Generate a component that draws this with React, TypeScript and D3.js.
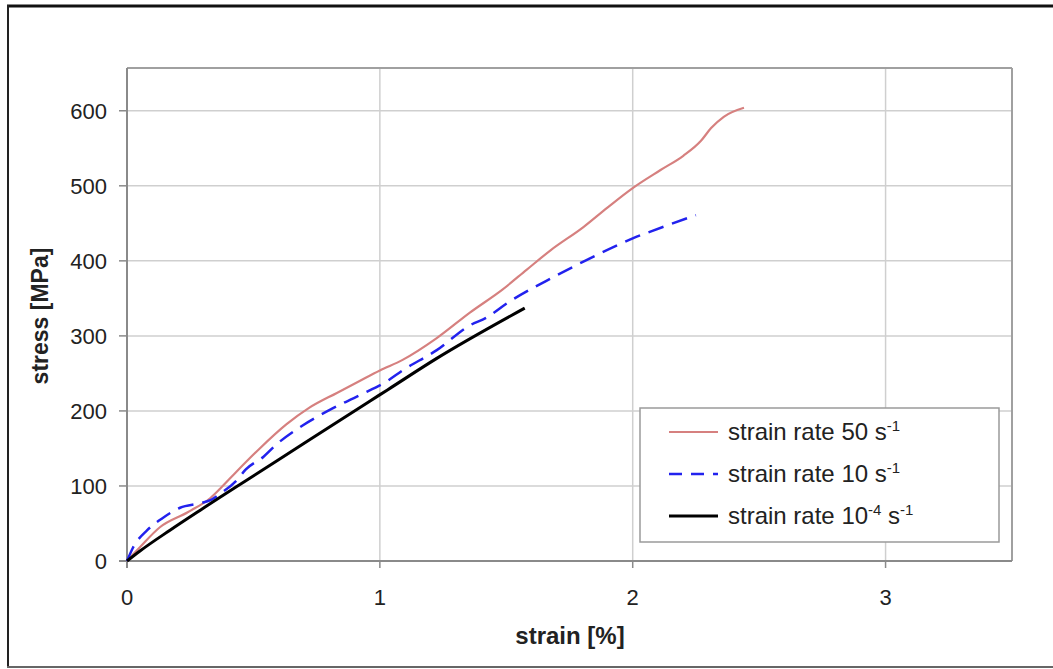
import * as d3 from "d3";

// strain [%] / stress [MPa]
const strain50 = [0, 0.05, 0.13, 0.24, 0.33, 0.37, 0.43, 0.525, 0.63, 0.72, 0.83, 0.92, 1.0, 1.09, 1.225, 1.356, 1.486, 1.58, 1.675, 1.805, 1.9, 2.0, 2.11, 2.2, 2.27, 2.31, 2.36, 2.44];
const stress50 = [0, 18, 45, 65, 84, 97, 118, 150, 182, 204, 224, 240, 254, 268, 297, 331, 362, 388, 414, 445, 471, 497, 521, 540, 560, 577, 592, 604];

const strain10 = [0, 0.024, 0.08, 0.14, 0.21, 0.29, 0.33, 0.37, 0.435, 0.47, 0.54, 0.59, 0.696, 0.8, 0.92, 1.03, 1.09, 1.225, 1.356, 1.42, 1.51, 1.69, 1.805, 1.94, 2.0, 2.07, 2.25];
const stress10 = [0, 18, 41, 57, 71, 77, 81, 90, 108, 122, 139, 155, 181, 201, 221, 240, 254, 281, 314, 324, 345, 379, 399, 421, 430, 439, 461];

const strainQs = [0, 0.05, 0.17, 0.3, 0.368, 0.47, 0.696, 0.96, 1.03, 1.225, 1.573];
const stressQs = [0, 13, 41, 70, 85, 107, 156, 213, 228, 270, 337];

const xTicks = [0, 1, 2, 3];
const yTicks = [0, 100, 200, 300, 400, 500, 600];

const series = [
  { base: "strain rate 50 s", exp: null, xs: strain50, ys: stress50, color: "#d6807f", width: 2.2, dash: null },
  { base: "strain rate 10 s", exp: null, xs: strain10, ys: stress10, color: "#2222ee", width: 2.5, dash: "16,9" },
  { base: "strain rate 10", exp: "-4", xs: strainQs, ys: stressQs, color: "#000", width: 3, dash: null },
];

const W = 1053, H = 669;
const left = 127, right = 1012, top = 68, bottom = 561;
const font = "'Liberation Sans', Arial, sans-serif";

export default function App() {
  const x = d3.scaleLinear([0, 3.5], [left, right]);
  const y = d3.scaleLinear([0, 657], [bottom, top]);

  return (
    <svg width={W} height={H} style={{ position: "absolute", left: 0, top: 0, background: "#fff" }} fontFamily={font}>
      {/* outer frame */}
      <line x1={7} x2={W} y1={6} y2={6} stroke="#111" strokeWidth={3} />
      <line x1={8} x2={8} y1={5} y2={668} stroke="#222" strokeWidth={2} />
      <line x1={7} x2={W} y1={667} y2={667} stroke="#666" strokeWidth={2} />

      {/* grid */}
      {yTicks.filter(t => t > 0).map(t => (
        <line key={"gy" + t} x1={left} x2={right} y1={y(t)} y2={y(t)} stroke="#cfcfcf" strokeWidth={1.5} />
      ))}
      {xTicks.filter(t => t > 0).map(t => (
        <line key={"gx" + t} x1={x(t)} x2={x(t)} y1={top} y2={bottom} stroke="#cfcfcf" strokeWidth={1.5} />
      ))}

      {/* plot border */}
      <line x1={left} x2={right} y1={top} y2={top} stroke="#a0a0a0" strokeWidth={2} />
      <line x1={right} x2={right} y1={top} y2={bottom} stroke="#a0a0a0" strokeWidth={2} />
      <line x1={left} x2={left} y1={top} y2={bottom + 7} stroke="#8a8a8a" strokeWidth={2} />
      <line x1={left - 8} x2={right} y1={bottom} y2={bottom} stroke="#8a8a8a" strokeWidth={2} />

      {/* ticks + labels */}
      {yTicks.map(t => (
        <g key={"ty" + t}>
          <line x1={left - 8} x2={left} y1={y(t)} y2={y(t)} stroke="#8a8a8a" strokeWidth={1.5} />
          <text x={107} y={y(t)} dy="0.36em" textAnchor="end" fontSize={22} fill="#222">{t}</text>
        </g>
      ))}
      {xTicks.map(t => (
        <g key={"tx" + t}>
          <line x1={x(t)} x2={x(t)} y1={bottom} y2={bottom + 7} stroke="#8a8a8a" strokeWidth={1.5} />
          <text x={x(t)} y={605} textAnchor="middle" fontSize={22} fill="#222">{t}</text>
        </g>
      ))}

      {/* axis titles */}
      <text x={570} y={644} textAnchor="middle" fontSize={24} fontWeight="bold" fill="#222">strain [%]</text>
      <text transform="translate(48,316) rotate(-90)" textAnchor="middle" fontSize={23} fontWeight="bold" fill="#222">stress [MPa]</text>

      {/* curves */}
      {series.map((s, i) => {
        const line = d3.line<number>((_, j) => x(s.xs[j]), d => y(d)).curve(d3.curveMonotoneX);
        return (
          <path key={"s" + i} d={line(s.ys) || ""} fill="none" stroke={s.color} strokeWidth={s.width}
            strokeDasharray={s.dash || undefined} strokeLinejoin="round" />
        );
      })}

      {/* legend */}
      <rect x={640} y={408} width={359} height={134} fill="#fff" stroke="#9a9a9a" strokeWidth={1.5} />
      {series.map((s, i) => {
        const cy = 432 + i * 42;
        return (
          <g key={"l" + i}>
            <line x1={669} x2={718} y1={cy} y2={cy} stroke={s.color} strokeWidth={s.width} strokeDasharray={s.dash ? "13,9" : undefined} />
            <text x={728} y={cy + 8} fontSize={24} fill="#222">
              {s.base}
              {s.exp && <tspan fontSize={15} dy={-9}>{s.exp}</tspan>}
              {s.exp && <tspan dy={9}> s</tspan>}
              <tspan fontSize={15} dy={-9}>-1</tspan>
            </text>
          </g>
        );
      })}
    </svg>
  );
}
